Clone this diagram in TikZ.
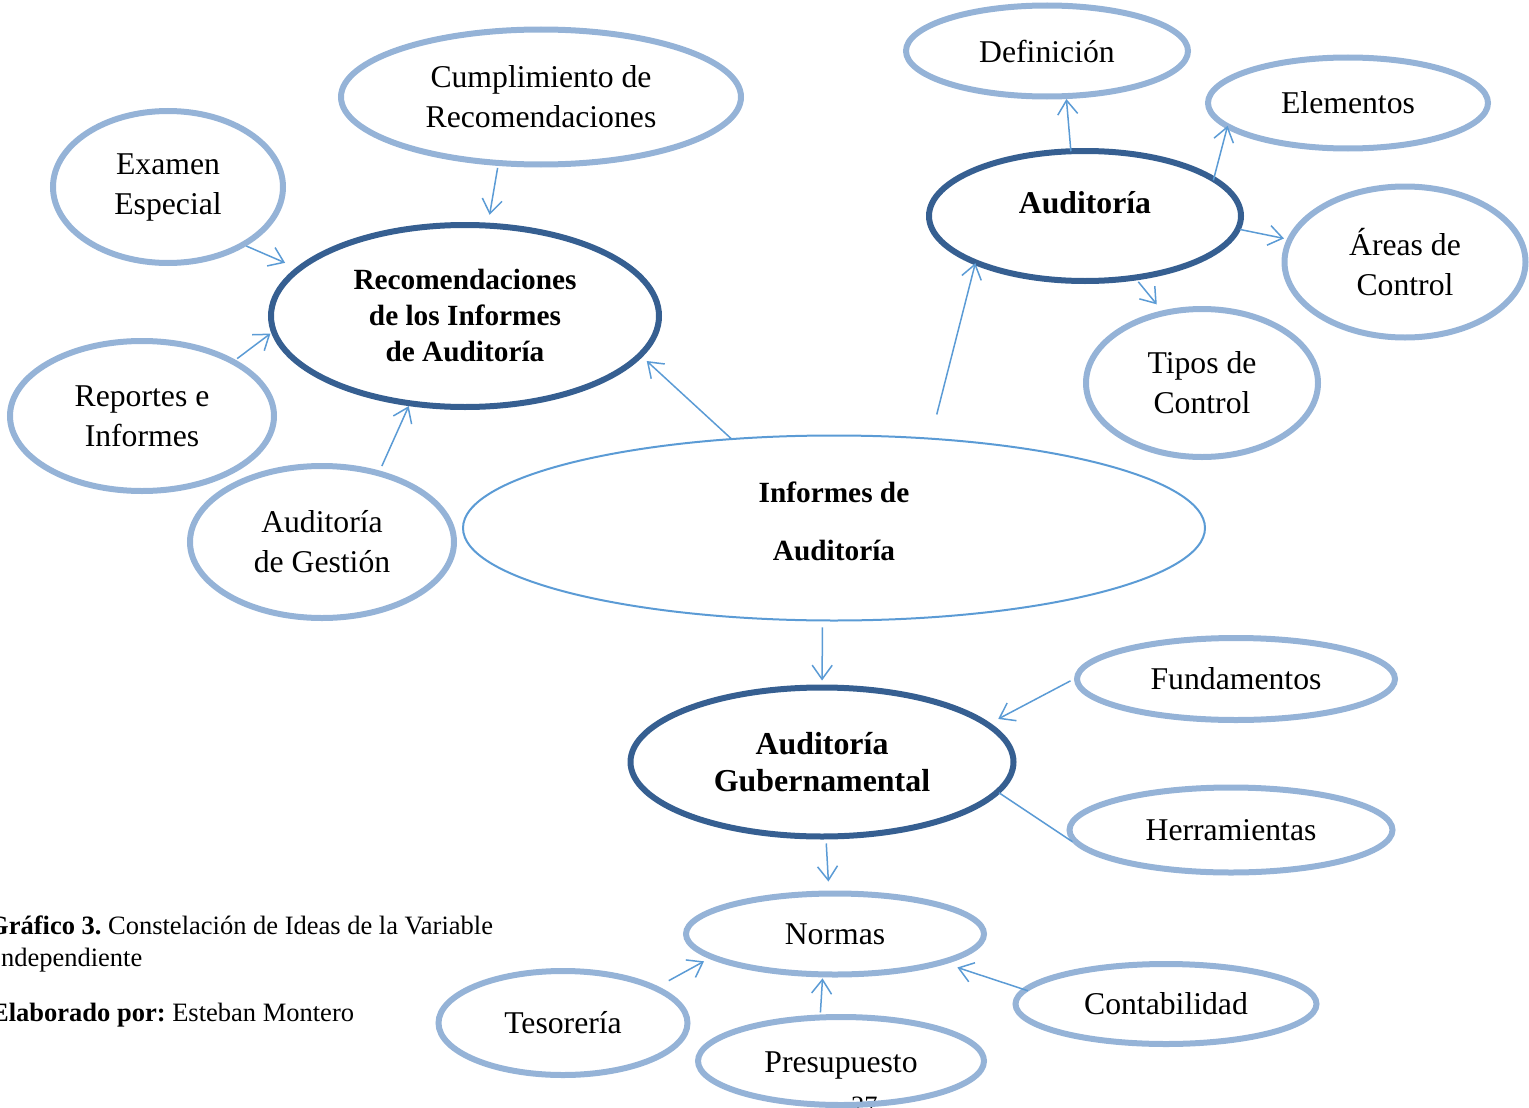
\documentclass[tikz,border=0pt]{standalone}
\usepackage{fontspec}
\setmainfont{Liberation Serif}
\usetikzlibrary{shapes.geometric,arrows.meta}
\definecolor{liteblue}{HTML}{95B3D7}
\definecolor{darkblue}{HTML}{365F91}
\definecolor{connblue}{HTML}{5B9BD5}
\newcommand\fnorm{\fontsize{31.7}{40}\selectfont}
\newcommand\fbrec{\fontsize{29.3}{36}\selectfont\bfseries}
\newcommand\fbinf{\fontsize{29.3}{58}\selectfont\bfseries}
\newcommand\fbaud{\fontsize{31.7}{38}\selectfont\bfseries}
\newcommand\fbgub{\fontsize{31.9}{37}\selectfont\bfseries}
\newcommand\fcap{\fontsize{26.5}{32}\selectfont\frenchspacing}
\begin{document}
\frenchspacing
\begin{tikzpicture}[x=1pt,y=-1pt,
  lite/.style={ellipse,draw=liteblue,line width=6pt,inner sep=0pt,align=center,font=\fnorm},
  dark/.style={ellipse,draw=darkblue,line width=6pt,inner sep=0pt,align=center},
  conn/.style={draw=connblue,line width=1.5pt,-{Straight Barb[length=14pt,width=20pt]}},
  plainconn/.style={draw=connblue,line width=1.5pt},
  captext/.style={anchor=base west,font=\fcap,inner sep=0pt}
]
\useasboundingbox (0,0) rectangle (1529,1108);
\clip (0,0) rectangle (1529,1108);

% page number (partly hidden)
\node[captext] (pagenum) at (851,1114.5) {27};

% caption
\node[captext] (cap1) at (-12,934) {\textbf{Gráfico 3.} Constelación de Ideas de la Variable};
\node[captext] (cap2) at (-8,966) {Independiente};
\node[captext] (cap3) at (-9,1021) {\textbf{Elaborado por:} Esteban Montero};

% nodes
\node[lite,minimum width=400pt,minimum height=135pt] (cum) at (541,97) {\raisebox{0pt}{Cumplimiento de}\\Recomendaciones};
\node[lite,minimum width=230pt,minimum height=152pt] (exa) at (168,187) {Examen\\Especial};
\node[dark,minimum width=388pt,minimum height=182pt,font=\fbrec] (rec) at (465,316) {Recomendaciones\\de los Informes\\de Auditoría};
\node[lite,minimum width=264pt,minimum height=150pt] (rep) at (142,416) {Reportes e\\Informes};
\node[lite,minimum width=264pt,minimum height=152pt] (ges) at (322,542) {Auditoría\\de Gestión};
\node[ellipse,draw=connblue,line width=2pt,inner sep=0pt,minimum width=742pt,minimum height=185pt,
      label={[font=\fbinf,align=center,yshift=7pt]center:Informes de\\Auditoría}] (inf) at (834,528) {};
\node[lite,minimum width=282pt,minimum height=91pt] (def) at (1047,51) {Definición};
\node[lite,minimum width=280pt,minimum height=91pt] (ele) at (1348,103) {Elementos};
\node[dark,minimum width=312pt,minimum height=130pt,
      label={[font=\fbaud,yshift=13pt]center:Auditoría}] (aud) at (1085,216) {};
\node[lite,minimum width=241pt,minimum height=151pt] (are) at (1405,262) {Áreas de\\Control};
\node[lite,minimum width=232pt,minimum height=148pt] (tip) at (1202,383) {Tipos de\\Control};
\node[lite,minimum width=318pt,minimum height=82pt] (fun) at (1236,679) {Fundamentos};
\node[dark,minimum width=383pt,minimum height=149pt,font=\fbgub] (gub) at (822,762) {Auditoría\\Gubernamental};
\node[lite,minimum width=323pt,minimum height=85pt] (her) at (1231,830) {Herramientas};
\node[lite,minimum width=298pt,minimum height=81pt] (nor) at (835,934) {Normas};
\node[lite,minimum width=249pt,minimum height=104pt] (tes) at (563,1023) {Tesorería};
\node[lite,minimum width=301pt,minimum height=80pt] (con) at (1166,1004) {Contabilidad};
\node[lite,minimum width=286pt,minimum height=88pt,
      label={[font=\fnorm,yshift=-4pt]center:Presupuesto}] (pre) at (841,1061) {};

% connectors
\draw[conn,shorten <=2pt,shorten >=8pt] (cum.238.8) -- (rec.76.2);
\draw[conn,shorten <=0pt,shorten >=12pt] (exa.323.6) -- (rec.164.35);
\draw[conn,shorten <=2pt,shorten >=1pt] (rep.31.4) -- (rec.185.3);
\draw[conn,shorten <=5pt,shorten >=0pt] (ges.51.3) -- (rec.238.4);
\draw[conn,shorten <=-2pt,shorten >=6pt] (inf.139.5) -- (rec.347.8);
\draw[conn,shorten <=24pt,shorten >=-2pt] (inf.43.2) -- (aud.204);
\draw[conn,shorten <=-3pt,shorten >=0pt] (aud.102.8) -- (def.292.2);
\draw[conn,shorten <=-4pt,shorten >=-3pt] (aud.17.4) -- (ele.192.1);
\draw[conn,shorten <=-1pt,shorten >=3pt] (aud.355.7) -- (are.169.8);
\draw[conn,shorten <=2pt,shorten >=8pt] (aud.309.8) -- (tip.119.4);
\draw[conn,shorten <=6pt,shorten >=4pt] (inf.263.2) -- (gub.90);
\draw[conn,shorten <=4pt,shorten >=9pt] (fun.180.7) -- (gub.13.4);
\draw[plainconn,shorten <=-1pt,shorten >=-1pt] (gub.350.1) -- (her.184.5);
\draw[conn,shorten <=4pt,shorten >=9pt] (gub.273.4) -- (nor.98.4);
\draw[conn,shorten <=12pt,shorten >=6pt] (tes.21.8) -- (nor.191.1);
\draw[conn,shorten <=2pt,shorten >=1pt] (pre.114.2) -- (nor.254.2);
\draw[conn,shorten <=-6pt,shorten >=12pt] (con.174.6) -- (nor.345.6);
\end{tikzpicture}
\end{document}
